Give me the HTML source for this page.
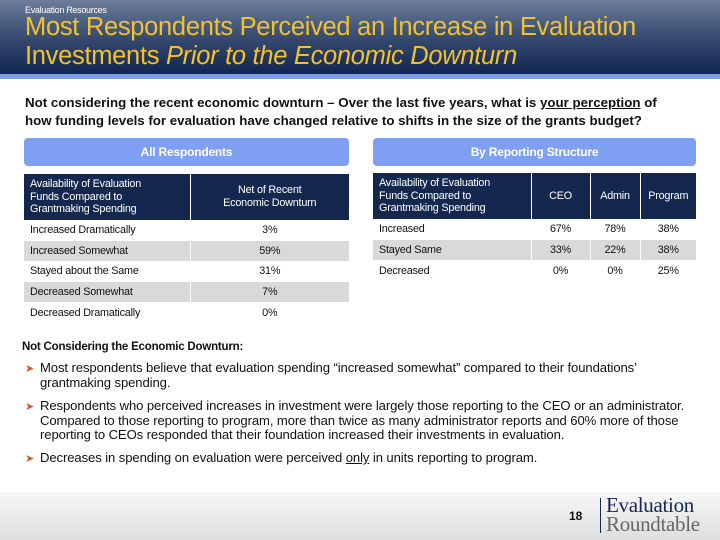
<!DOCTYPE html>
<html><head><meta charset="utf-8"><style>
*{margin:0;padding:0;box-sizing:border-box}
body{width:720px;height:540px;position:relative;background:#fff;font-family:"Liberation Sans",sans-serif;overflow:hidden;color:#111}
.abs{position:absolute}
.hdr{left:0;top:0;width:720px;height:74px;background:linear-gradient(#6d7d98,#3c5075 45%,#102550)}
.band{left:0;top:74px;width:720px;height:5px;background:#7f9de6}
.title{left:25px;color:#f2c12e;font-size:25.5px;letter-spacing:-0.3px;white-space:nowrap}
.q{left:25px;font-size:13.3px;font-weight:bold;letter-spacing:0;white-space:nowrap;color:#111}
.banner{top:138px;height:28px;background:#7f9ff3;border-radius:4px;color:#fff;font-weight:bold;font-size:12px;letter-spacing:-0.2px;text-align:center;line-height:28px}
table{position:absolute;border-collapse:collapse;font-size:10.8px;letter-spacing:-0.2px}
th{background:#14284f;color:#fff;font-weight:normal;border-right:1px solid #fff;padding:0 6px;height:46px;line-height:12.5px}
th:last-child{border-right:none}
td{height:20.6px;padding:0 6px;border-right:1px solid #fff;border-top:1px solid #fff}
td:last-child{border-right:none}
tr.g td{background:#d9d9d9}
td.c{text-align:center}
.b{font-size:13.1px;letter-spacing:-0.1px;white-space:nowrap;line-height:14.5px}
.arrow{color:#d9572b;font-size:11px}
.foot{left:0;top:492px;width:720px;height:48px;background:linear-gradient(#f7f7f7,#dedede)}
</style></head><body>
<div class="abs hdr"></div>
<div class="abs band"></div>
<div class="abs" style="left:25px;top:5px;color:#fff;font-size:9px;letter-spacing:-0.3px">Evaluation Resources</div>
<div class="abs title" style="top:13px">Most Respondents Perceived an Increase in Evaluation</div>
<div class="abs title" style="top:42px">Investments <i>Prior to the Economic Downturn</i></div>
<div class="abs q" style="top:95px">Not considering the recent economic downturn – Over the last five years, what is <u>your perception</u> of</div>
<div class="abs q" style="top:113px">how funding levels for evaluation have changed relative to shifts in the size of the grants budget?</div>

<div class="abs banner" style="left:24px;width:325px">All Respondents</div>
<div class="abs banner" style="left:373px;width:323px">By Reporting Structure</div>

<table style="left:24px;top:174px;width:325px">
<tr><th style="width:166px;text-align:left">Availability of Evaluation<br>Funds Compared to<br>Grantmaking Spending</th><th>Net of Recent<br>Economic Downturn</th></tr>
<tr><td>Increased Dramatically</td><td class="c">3%</td></tr>
<tr class="g"><td>Increased Somewhat</td><td class="c">59%</td></tr>
<tr><td>Stayed about the Same</td><td class="c">31%</td></tr>
<tr class="g"><td>Decreased Somewhat</td><td class="c">7%</td></tr>
<tr><td>Decreased Dramatically</td><td class="c">0%</td></tr>
</table>

<table style="left:373px;top:173px;width:323px">
<tr><th style="width:158px;text-align:left">Availability of Evaluation<br>Funds Compared to<br>Grantmaking Spending</th><th style="width:59px">CEO</th><th style="width:50px">Admin</th><th>Program</th></tr>
<tr><td>Increased</td><td class="c">67%</td><td class="c">78%</td><td class="c">38%</td></tr>
<tr class="g"><td>Stayed Same</td><td class="c">33%</td><td class="c">22%</td><td class="c">38%</td></tr>
<tr><td>Decreased</td><td class="c">0%</td><td class="c">0%</td><td class="c">25%</td></tr>
</table>

<div class="abs" style="left:22px;top:341px;font-size:11.5px;font-weight:bold;letter-spacing:-0.2px">Not Considering the Economic Downturn:</div>
<div class="abs arrow" style="left:25px;top:362px">➤</div>
<div class="abs b" style="left:40px;top:361px">Most respondents believe that evaluation spending “increased somewhat” compared to their foundations’<br>grantmaking spending.</div>
<div class="abs arrow" style="left:25px;top:400px">➤</div>
<div class="abs b" style="left:40px;top:399px">Respondents who perceived increases in investment were largely those reporting to the CEO or an administrator.<br>Compared to those reporting to program, more than twice as many administrator reports and 60% more of those<br>reporting to CEOs responded that their foundation increased their investments in evaluation.</div>
<div class="abs arrow" style="left:25px;top:452px">➤</div>
<div class="abs b" style="left:40px;top:451px">Decreases in spending on evaluation were perceived <u>only</u> in units reporting to program.</div>

<div class="abs foot"></div>
<div class="abs" style="left:569px;top:509px;font-size:12px;font-weight:bold">18</div>
<div class="abs" style="left:600px;top:498px;width:1px;height:35px;background:#14284f"></div>
<div class="abs" style="left:606px;top:496px;font-family:'Liberation Serif',serif;font-size:21px;line-height:19px;letter-spacing:-0.3px"><span style="color:#14284f">Evaluation</span><br><span style="color:#666">Roundtable</span></div>
</body></html>
